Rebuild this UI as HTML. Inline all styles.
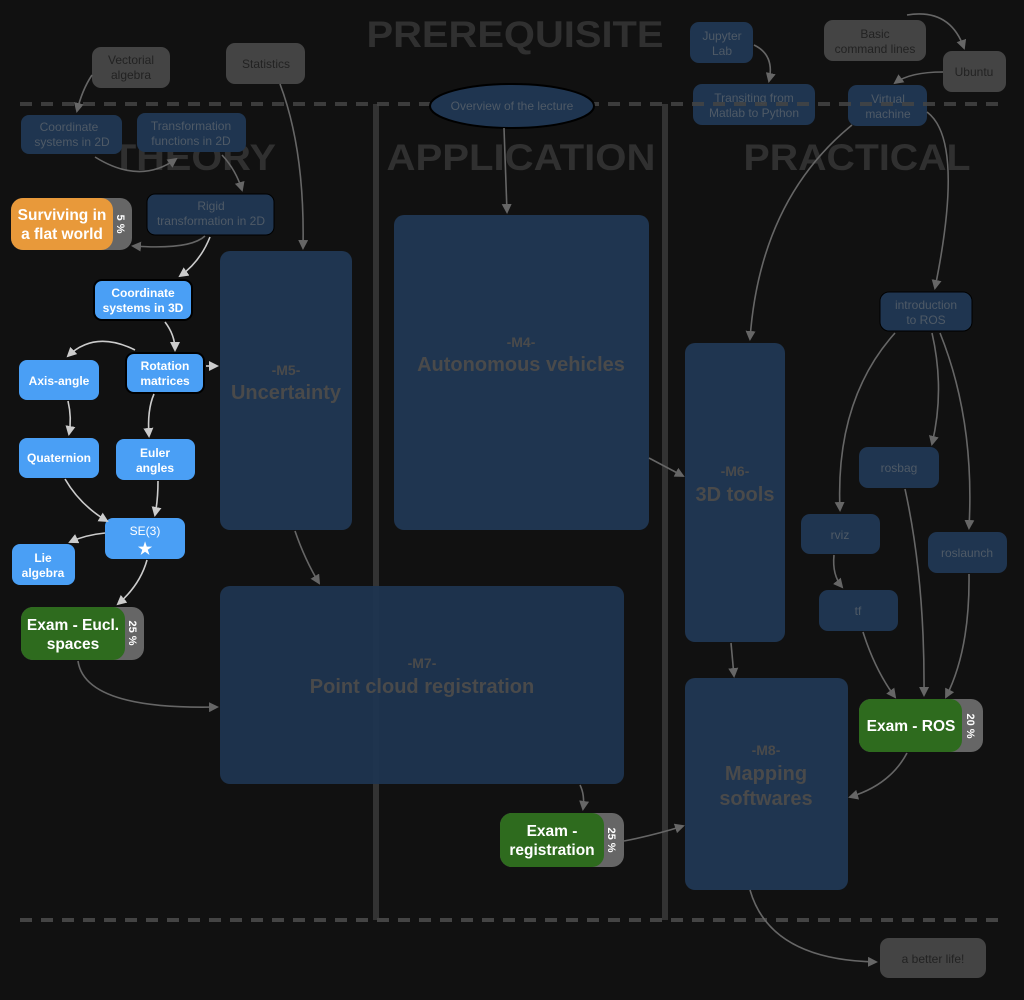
<!DOCTYPE html>
<html><head><meta charset="utf-8"><style>
html,body{margin:0;padding:0;background:#111;}
svg{display:block;font-family:"Liberation Sans",Arial,sans-serif;}
.t{font-weight:bold;fill:#303030;text-anchor:middle;font-size:37px;}
.d{fill:#1f3550;}
.g{fill:#444;}
.b{fill:#4a9ff5;}
.dt{fill:#4f5a66;font-size:12px;text-anchor:middle;}
.gt{fill:#222;font-size:12px;text-anchor:middle;}
.bt{fill:#fff;font-size:12px;font-weight:bold;text-anchor:middle;}
.xt{fill:#fff;font-size:15.5px;font-weight:bold;text-anchor:middle;}
.pt{fill:#fff;font-size:11px;font-weight:bold;text-anchor:middle;}
.mt{fill:#4a4a4a;font-weight:bold;text-anchor:middle;}
.m1{font-size:14px;}
.m2{font-size:20px;}
.e1{stroke:#666;stroke-width:1.6;fill:none;marker-end:url(#a1);}
.e2{stroke:#ccc;stroke-width:1.6;fill:none;marker-end:url(#a2);}
</style></head><body>
<svg width="1024" height="1000" viewBox="0 0 1024 1000">
<defs>
<marker id="a1" markerWidth="10" markerHeight="10" refX="8" refY="5" orient="auto" markerUnits="userSpaceOnUse"><path d="M0,0 L10,5 L0,10 z" fill="#666"/></marker>
<marker id="a2" markerWidth="10" markerHeight="10" refX="8" refY="5" orient="auto" markerUnits="userSpaceOnUse"><path d="M0,0 L10,5 L0,10 z" fill="#ccc"/></marker>
</defs>
<!-- titles -->
<text class="t" x="515" y="47" textLength="297" lengthAdjust="spacingAndGlyphs">PREREQUISITE</text>
<text class="t" x="194" y="170" textLength="164" lengthAdjust="spacingAndGlyphs">THEORY</text>
<text class="t" x="521" y="170" textLength="269" lengthAdjust="spacingAndGlyphs">APPLICATION</text>
<text class="t" x="857" y="170" textLength="227" lengthAdjust="spacingAndGlyphs">PRACTICAL</text>
<!-- separators -->
<line x1="376" y1="104" x2="376" y2="920" stroke="#333" stroke-width="6"/>
<line x1="665" y1="104" x2="665" y2="920" stroke="#333" stroke-width="6"/>

<!-- big modules -->
<rect class="d" x="220" y="251" width="132" height="279" rx="10"/>
<text class="mt m1" x="286" y="375">-M5-</text>
<text class="mt m2" x="286" y="399">Uncertainty</text>
<rect class="d" x="394" y="215" width="255" height="315" rx="10"/>
<text class="mt m1" x="521" y="347">-M4-</text>
<text class="mt m2" x="521" y="371">Autonomous vehicles</text>
<rect fill="#1f3550" fill-opacity="0.95" x="220" y="586" width="404" height="198" rx="10"/>
<text class="mt m1" x="422" y="668">-M7-</text>
<text class="mt m2" x="422" y="693">Point cloud registration</text>
<rect class="d" x="685" y="343" width="100" height="299" rx="10"/>
<text class="mt m1" x="735" y="476">-M6-</text>
<text class="mt m2" x="735" y="501">3D tools</text>
<rect class="d" x="685" y="678" width="163" height="212" rx="10"/>
<text class="mt m1" x="766" y="755">-M8-</text>
<text class="mt m2" x="766" y="780">Mapping</text>
<text class="mt m2" x="766" y="805">softwares</text>

<!-- prerequisite gray nodes -->
<rect class="g" x="92" y="47" width="78" height="41" rx="9"/>
<text class="gt" x="131" y="64">Vectorial</text><text class="gt" x="131" y="79">algebra</text>
<rect class="g" x="226" y="43" width="79" height="41" rx="9"/>
<text class="gt" x="266" y="68">Statistics</text>
<rect class="g" x="824" y="20" width="102" height="41" rx="9"/>
<text class="gt" x="875" y="38">Basic</text><text class="gt" x="875" y="53">command lines</text>
<rect class="g" x="943" y="51" width="63" height="41" rx="9"/>
<text class="gt" x="974" y="76">Ubuntu</text>
<rect class="g" x="880" y="938" width="106" height="40" rx="9"/>
<text class="gt" x="933" y="963">a better life!</text>

<!-- dim blue nodes -->
<rect class="d" x="21" y="115" width="101" height="39" rx="8"/>
<text class="dt" x="69" y="131">Coordinate</text><text class="dt" x="72" y="146">systems in 2D</text>
<rect class="d" x="137" y="113" width="109" height="39" rx="8"/>
<text class="dt" x="191" y="130">Transformation</text><text class="dt" x="191" y="145">functions in 2D</text>
<rect class="d" x="147" y="194" width="127" height="41" rx="8" stroke="#000" stroke-width="1"/>
<text class="dt" x="211" y="210">Rigid</text><text class="dt" x="211" y="225">transformation in 2D</text>
<rect class="d" x="690" y="22" width="63" height="41" rx="9"/>
<text class="dt" x="722" y="40">Jupyter</text><text class="dt" x="722" y="55">Lab</text>
<rect class="d" x="693" y="84" width="122" height="41" rx="9"/>
<text class="dt" x="754" y="102">Transiting from</text><text class="dt" x="754" y="117">Matlab to Python</text>
<rect class="d" x="848" y="85" width="79" height="41" rx="9"/>
<text class="dt" x="888" y="103">Virtual</text><text class="dt" x="888" y="118">machine</text>
<!-- dashed lines over nodes -->
<line x1="20" y1="104" x2="1004" y2="104" stroke="#444" stroke-width="4" stroke-dasharray="12,9" stroke-opacity="0.85"/>
<line x1="20" y1="920" x2="1004" y2="920" stroke="#444" stroke-width="4" stroke-dasharray="12,9"/>
<ellipse cx="512" cy="106" rx="82" ry="22" fill="#1f3550" stroke="#000" stroke-width="2"/>
<text class="dt" x="512" y="110">Overview of the lecture</text>
<rect class="d" x="880" y="292" width="92" height="39" rx="9" stroke="#000" stroke-width="1"/>
<text class="dt" x="926" y="309">introduction</text><text class="dt" x="926" y="324">to ROS</text>
<rect class="d" x="859" y="447" width="80" height="41" rx="9"/>
<text class="dt" x="899" y="472">rosbag</text>
<rect class="d" x="801" y="514" width="79" height="40" rx="9"/>
<text class="dt" x="840" y="539">rviz</text>
<rect class="d" x="928" y="532" width="79" height="41" rx="9"/>
<text class="dt" x="967" y="557">roslaunch</text>
<rect class="d" x="819" y="590" width="79" height="41" rx="9"/>
<text class="dt" x="858" y="615">tf</text>

<!-- bright blue nodes -->
<rect class="b" x="94" y="280" width="98" height="40" rx="8" stroke="#000" stroke-width="2"/>
<text class="bt" x="143" y="297">Coordinate</text><text class="bt" x="143" y="312">systems in 3D</text>
<rect class="b" x="19" y="360" width="80" height="40" rx="8"/>
<text class="bt" x="59" y="385">Axis-angle</text>
<rect class="b" x="126" y="353" width="78" height="40" rx="8" stroke="#000" stroke-width="2"/>
<text class="bt" x="165" y="370">Rotation</text><text class="bt" x="165" y="385">matrices</text>
<rect class="b" x="19" y="438" width="80" height="40" rx="8"/>
<text class="bt" x="59" y="462">Quaternion</text>
<rect class="b" x="116" y="439" width="79" height="41" rx="8"/>
<text class="bt" x="155" y="457">Euler</text><text class="bt" x="155" y="472">angles</text>
<rect class="b" x="105" y="518" width="80" height="41" rx="8"/>
<text class="bt" x="145" y="535" style="font-weight:normal">SE(3)</text><text class="bt" x="145" y="554" style="font-size:16px">★</text>
<rect class="b" x="12" y="544" width="63" height="41" rx="8"/>
<text class="bt" x="43" y="562">Lie</text><text class="bt" x="43" y="577">algebra</text>

<!-- exams / pills -->
<rect fill="#666" x="11" y="198" width="121" height="52" rx="12"/>
<rect fill="#e8993a" x="11" y="198" width="102" height="52" rx="12"/>
<text class="xt" x="62" y="220">Surviving in</text><text class="xt" x="62" y="239">a flat world</text>
<text class="pt" transform="translate(117,224) rotate(90)">5 %</text>
<rect fill="#666" x="21" y="607" width="123" height="53" rx="12"/>
<rect fill="#2e6b1e" x="21" y="607" width="104" height="53" rx="12"/>
<text class="xt" x="73" y="630">Exam - Eucl.</text><text class="xt" x="73" y="649">spaces</text>
<text class="pt" transform="translate(129,633) rotate(90)">25 %</text>
<rect fill="#666" x="500" y="813" width="124" height="54" rx="12"/>
<rect fill="#2e6b1e" x="500" y="813" width="104" height="54" rx="12"/>
<text class="xt" x="552" y="836">Exam -</text><text class="xt" x="552" y="855">registration</text>
<text class="pt" transform="translate(608,840) rotate(90)">25 %</text>
<rect fill="#666" x="859" y="699" width="124" height="53" rx="12"/>
<rect fill="#2e6b1e" x="859" y="699" width="103" height="53" rx="12"/>
<text class="xt" x="911" y="731">Exam -  ROS</text>
<text class="pt" transform="translate(967,726) rotate(90)">20 %</text>

<!-- edges dim -->
<path class="e1" d="M92,75 Q82,90 77,111"/>
<path class="e1" d="M280,84 Q305,150 303,248"/>
<path class="e1" d="M95,157 Q140,185 176,159"/>
<path class="e1" d="M222,155 Q236,170 242,190"/>
<path class="e1" d="M205,236 Q190,250 133,246"/>
<path class="e1" d="M504,128 L507,212"/>
<path class="e1" d="M754,45 Q775,55 769,81"/>
<path class="e1" d="M907,15 Q950,8 964,48"/>
<path class="e1" d="M943,72 Q910,72 895,83"/>
<path class="e1" d="M852,125 Q760,200 750,339"/>
<path class="e1" d="M927,112 Q965,140 935,288"/>
<path class="e1" d="M895,333 Q835,400 840,510"/>
<path class="e1" d="M932,333 Q945,390 932,444"/>
<path class="e1" d="M940,333 Q975,420 969,528"/>
<path class="e1" d="M834,555 Q832,575 842,587"/>
<path class="e1" d="M863,632 Q875,670 895,697"/>
<path class="e1" d="M905,489 Q925,580 924,695"/>
<path class="e1" d="M969,574 Q970,650 946,697"/>
<path class="e1" d="M907,753 Q890,785 850,797"/>
<path class="e1" d="M649,458 L683,476"/>
<path class="e1" d="M731,643 L734,676"/>
<path class="e1" d="M295,531 Q305,560 319,583"/>
<path class="e1" d="M580,785 Q585,795 583,809"/>
<path class="e1" d="M624,841 Q655,835 683,826"/>
<path class="e1" d="M78,661 Q85,710 217,707"/>
<path class="e1" d="M750,890 Q770,960 876,962"/>
<!-- edges bright -->
<path class="e2" d="M210,237 Q200,262 180,276"/>
<path class="e2" d="M165,322 Q175,335 175,350"/>
<path class="e2" d="M135,350 Q95,330 68,356"/>
<path class="e2" d="M206,366 L217,366"/>
<path class="e2" d="M154,394 Q147,410 149,436"/>
<path class="e2" d="M68,401 Q72,418 69,434"/>
<path class="e2" d="M158,481 Q158,500 155,515"/>
<path class="e2" d="M65,479 Q80,505 107,521"/>
<path class="e2" d="M105,533 Q85,535 70,542"/>
<path class="e2" d="M147,560 Q140,585 118,604"/>
</svg>
</body></html>
